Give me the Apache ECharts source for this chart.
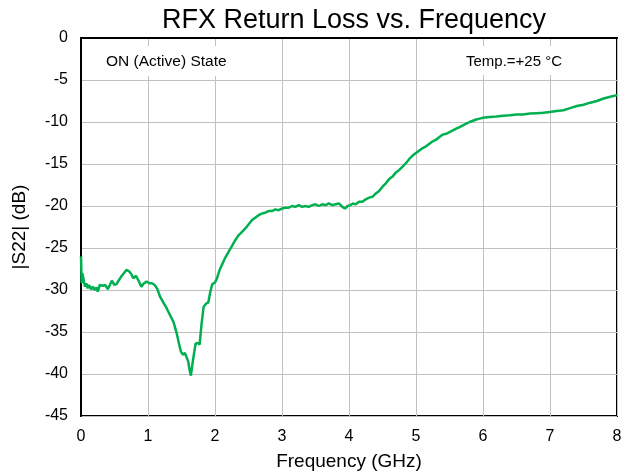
<!DOCTYPE html>
<html>
<head>
<meta charset="utf-8">
<script src="https://cdn.jsdelivr.net/npm/echarts@6/dist/echarts.min.js"></script>
<style>
  html, body { margin: 0; padding: 0; background: #fff; }
  #chart { width: 629px; height: 476px; }
</style>
</head>
<body>
<div id="chart"></div>
<script>
// frequency points (GHz)
var freq = [
  0.00, 0.01, 0.02, 0.04, 0.06, 0.08, 0.10, 0.12, 0.15, 0.18,
  0.20, 0.23, 0.25, 0.28, 0.30, 0.33, 0.36, 0.40, 0.43, 0.46,
  0.50, 0.53, 0.56, 0.60, 0.64, 0.68, 0.72, 0.75, 0.78, 0.82,
  0.86, 0.90, 0.94, 0.98, 1.02, 1.06, 1.10, 1.14, 1.18, 1.23,
  1.28, 1.33, 1.38, 1.43, 1.46, 1.49, 1.52, 1.55, 1.57, 1.60,
  1.62, 1.64, 1.66, 1.68, 1.71, 1.74, 1.77, 1.80, 1.83, 1.87,
  1.90, 1.93, 1.96, 2.00, 2.03, 2.07, 2.11, 2.15, 2.20, 2.25,
  2.30, 2.35, 2.40, 2.45, 2.50, 2.55, 2.60, 2.65, 2.70, 2.75,
  2.80, 2.85, 2.90, 2.95, 3.00, 3.05, 3.10, 3.15, 3.20, 3.25,
  3.30, 3.35, 3.40, 3.45, 3.50, 3.55, 3.60, 3.65, 3.70, 3.75,
  3.80, 3.85, 3.90, 3.94, 3.98, 4.02, 4.06, 4.10, 4.15, 4.20,
  4.25, 4.30, 4.35, 4.40, 4.45, 4.50, 4.55, 4.60, 4.65, 4.70,
  4.75, 4.80, 4.85, 4.90, 4.95, 5.00, 5.05, 5.10, 5.15, 5.20,
  5.25, 5.30, 5.35, 5.40, 5.45, 5.50, 5.55, 5.60, 5.65, 5.70,
  5.75, 5.80, 5.85, 5.90, 5.95, 6.00, 6.10, 6.20, 6.30, 6.40,
  6.50, 6.60, 6.70, 6.80, 6.90, 7.00, 7.10, 7.20, 7.30, 7.40,
  7.50, 7.60, 7.70, 7.80, 7.90, 8.00
];

// |S22| in dB
var s22 = [
  -26.0, -29.2, -28.0, -27.9, -29.6, -29.2, -29.8, -29.4, -29.9, -29.6,
  -30.0, -29.7, -30.2, -29.4, -29.2, -29.5, -29.4, -29.9, -29.4, -28.9,
  -29.4, -29.3, -28.9, -28.4, -28.0, -27.6, -27.8, -28.1, -28.6, -28.3,
  -28.9, -29.6, -29.2, -29.0, -29.2, -29.2, -29.4, -29.9, -30.8, -31.5,
  -32.2, -33.0, -33.8, -35.2, -36.3, -37.3, -37.7, -37.5, -37.3, -38.5,
  -39.5, -40.2, -39.0, -37.9, -36.4, -36.3, -36.5, -34.0, -32.0, -31.6,
  -31.5, -30.2, -29.3, -29.1, -28.6, -27.6, -26.9, -26.2, -25.5, -24.8,
  -24.1, -23.5, -23.1, -22.7, -22.2, -21.7, -21.4, -21.1, -20.9, -20.8,
  -20.6, -20.6, -20.4, -20.5, -20.3, -20.2, -20.2, -20.0, -20.1, -19.9,
  -20.1, -20.0, -20.1, -19.9, -19.8, -20.0, -19.8, -19.9, -19.7, -19.9,
  -19.8, -19.7, -20.1, -20.3, -20.0, -19.9, -19.7, -19.8, -19.5, -19.5,
  -19.2, -19.0, -18.9, -18.5, -18.2, -17.7, -17.3, -16.8, -16.5, -16.0,
  -15.7, -15.3, -14.9, -14.4, -14.0, -13.7, -13.4, -13.1, -12.9, -12.6,
  -12.3, -12.1, -11.8, -11.5, -11.4, -11.2, -11.0, -10.8, -10.6, -10.4,
  -10.2, -10.0, -9.85, -9.7, -9.6, -9.5, -9.4, -9.35, -9.25, -9.2,
  -9.1, -9.1, -9.0, -8.95, -8.9, -8.8, -8.7, -8.6, -8.35, -8.1,
  -7.95, -7.7, -7.5, -7.2, -7.0, -6.8
];

var chartTitle = 'RFX Return Loss vs. Frequency';
var xName = 'Frequency (GHz)';
var yName = '|S22| (dB)';
var noteLeft = 'ON (Active) State';
var noteRight = 'Temp.=+25 °C';

var font = 'Liberation Sans, Arial, sans-serif';

var chart = echarts.init(document.getElementById('chart'));

var option = {
  animation: false,
  backgroundColor: '#fff',
  title: {
    text: chartTitle,
    left: 349,
    textAlign: 'center',
    top: 2,
    textStyle: { fontFamily: font, fontSize: 27, fontWeight: 'normal', color: '#000' }
  },
  grid: {
    left: 81, right: 12, top: 38, bottom: 60,
    show: true,
    borderColor: '#000',
    borderWidth: 2,
    containLabel: false
  },
  xAxis: {
    type: 'value',
    min: 0, max: 8, interval: 1,
    name: xName,
    nameLocation: 'middle',
    nameGap: 36,
    nameTextStyle: { fontFamily: font, fontSize: 19, color: '#000' },
    axisLine: { show: true, lineStyle: { color: '#000', width: 2 } },
    axisTick: { show: false },
    axisLabel: { fontFamily: font, fontSize: 16, color: '#000', margin: 13 },
    splitLine: { show: true, lineStyle: { color: '#c0c0c0', width: 1 } }
  },
  yAxis: {
    type: 'value',
    min: -45, max: 0, interval: 5,
    name: yName,
    nameLocation: 'middle',
    nameGap: 52,
    nameTextStyle: { fontFamily: font, fontSize: 19, color: '#000' },
    axisLine: { show: true, lineStyle: { color: '#000', width: 2 } },
    axisTick: { show: false },
    axisLabel: { fontFamily: font, fontSize: 16, color: '#000', margin: 13 },
    splitLine: { show: true, lineStyle: { color: '#c0c0c0', width: 1 } }
  },
  graphic: [
    {
      type: 'text',
      left: 97, top: 46,
      z: 100,
      style: {
        text: noteLeft,
        font: '15.5px ' + font,
        fill: '#000',
        backgroundColor: '#fff',
        padding: [8, 9, 6, 9]
      }
    },
    {
      type: 'text',
      left: 457, top: 46,
      z: 100,
      style: {
        text: noteRight,
        font: '15px ' + font,
        fill: '#000',
        backgroundColor: '#fff',
        padding: [8, 9, 6, 9]
      }
    }
  ],
  series: [
    {
      type: 'line',
      data: freq.map(function (f, i) { return [f, s22[i]]; }),
      showSymbol: false,
      lineStyle: { color: '#00b050', width: 2.5 },
      itemStyle: { color: '#00b050' },
      clip: true
    }
  ]
};

chart.setOption(option);
</script>
</body>
</html>
